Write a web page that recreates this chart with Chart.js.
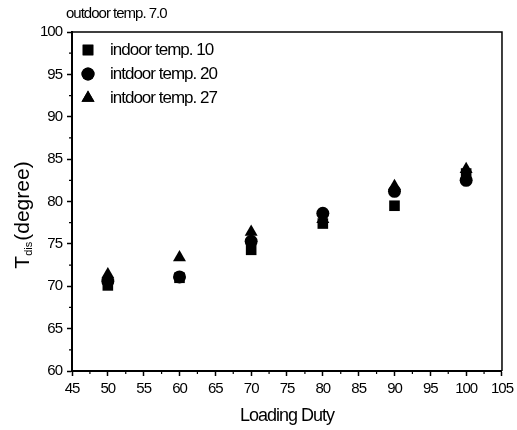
<!DOCTYPE html>
<html>
<head>
<meta charset="utf-8">
<script src="https://cdn.jsdelivr.net/npm/chart.js@4/dist/chart.umd.min.js"></script>
<style>
  html, body { margin: 0; padding: 0; background: #fff; }
  #wrap { width: 517px; height: 430px; position: relative; }
</style>
</head>
<body>
<div id="wrap"><canvas id="chart"></canvas></div>
<script>
// ─── Data ───
const loadingDuty = [50, 60, 70, 80, 90, 100];
const indoor10 = [70.1, 71.0, 74.3, 77.4, 79.5, 83.3];
const indoor20 = [70.6, 71.1, 75.3, 78.6, 81.2, 82.5];
const indoor27 = [71.4, 73.4, 76.4, 77.9, 81.8, 83.8];
const seriesLabels = ['indoor temp. 10', 'intdoor temp. 20', 'intdoor temp. 27'];
const xTicks = [45, 50, 55, 60, 65, 70, 75, 80, 85, 90, 95, 100, 105];
const yTicks = [60, 65, 70, 75, 80, 85, 90, 95, 100];
const chartTitle = 'outdoor temp. 7.0';

const FONT = 'Liberation Sans, Arial, sans-serif';
const toPoints = ys => loadingDuty.map((x, i) => ({ x, y: ys[i] }));

// minor ticks, frame, legend, y title with subscript
const decor = {
    id: 'decor',
    beforeUpdate(chart) { chart.ctx.letterSpacing = '-1px'; },
    beforeDraw(chart) { chart.ctx.letterSpacing = '-1px'; },
    afterDraw(chart) {
        const { ctx, chartArea: a, scales: { x, y } } = chart;
        ctx.save();
        ctx.strokeStyle = '#000';
        // top / right frame
        ctx.lineWidth = 1.5;
        ctx.beginPath();
        ctx.moveTo(a.left, a.top); ctx.lineTo(a.right, a.top); ctx.lineTo(a.right, a.bottom);
        ctx.stroke();
        // minor ticks
        ctx.lineWidth = 1.2;
        ctx.beginPath();
        for (let i = 0; i < xTicks.length - 1; i++) {
            const px = x.getPixelForValue(xTicks[i] + 2.5);
            ctx.moveTo(px, a.bottom); ctx.lineTo(px, a.bottom + 3);
        }
        for (let i = 0; i < yTicks.length - 1; i++) {
            const py = y.getPixelForValue(yTicks[i] + 2.5);
            ctx.moveTo(a.left, py); ctx.lineTo(a.left - 3, py);
        }
        ctx.stroke();

        // title
        ctx.fillStyle = '#000';
        ctx.letterSpacing = '-1px';
        ctx.font = '15px ' + FONT;
        ctx.textAlign = 'left';
        ctx.textBaseline = 'middle';
        ctx.fillText(chartTitle, 66, 14);

        // legend
        ctx.font = '17px ' + FONT;
        const rows = [50, 74, 98];
        chart.data.datasets.forEach((ds, i) => {
            Chart.helpers.drawPoint(ctx, {
                pointStyle: ds.pointStyle, radius: ds.pointRadius, borderWidth: 0, rotation: 0
            }, 88, rows[i]);
            ctx.fill();
            ctx.fillText(ds.label, 110, rows[i]);
        });

        // y axis title: T_dis(degree)
        ctx.letterSpacing = '0px';
        ctx.translate(23, 215);
        ctx.rotate(-Math.PI / 2);
        const big = '21px ' + FONT, small = '11px ' + FONT;
        ctx.font = big; const wT = ctx.measureText('T').width;
        const wP = ctx.measureText('(degree)').width;
        ctx.font = small; const wS = ctx.measureText('dis').width;
        let cx = -(wT + wS + 1 + wP) / 2;
        ctx.font = big; ctx.fillText('T', cx, 0); cx += wT;
        ctx.font = small; ctx.fillText('dis', cx, 6); cx += wS + 1;
        ctx.font = big; ctx.fillText('(degree)', cx, 0);
        ctx.restore();
    }
};

const makeSet = (label, data, style, r, order) => ({
    label, data: toPoints(data),
    pointStyle: style, pointRadius: r, pointHoverRadius: r,
    backgroundColor: '#000', borderColor: '#000', borderWidth: 0,
    showLine: false, order
});

new Chart(document.getElementById('chart'), {
    type: 'scatter',
    data: {
        datasets: [
            makeSet(seriesLabels[0], indoor10, 'rect', 7.5, 2),
            makeSet(seriesLabels[1], indoor20, 'circle', 6.5, 1),
            makeSet(seriesLabels[2], indoor27, 'triangle', 7.5, 0)
        ]
    },
    options: {
        responsive: true, maintainAspectRatio: false, animation: false,
        layout: { padding: { left: 0, top: 32, right: 13, bottom: 0 } },
        plugins: { legend: { display: false }, tooltip: { enabled: false } },
        scales: {
            x: {
                type: 'linear', min: 45, max: 105,
                afterFit: s => { s.height = 59; },
                afterBuildTicks: s => { s.ticks = xTicks.map(v => ({ value: v })); },
                grid: { drawOnChartArea: false, drawTicks: true, tickLength: 5, tickWidth: 1.5, tickColor: '#000' },
                border: { display: true, color: '#000', width: 2 },
                ticks: { color: '#000', font: { family: FONT, size: 15 }, padding: 4, maxRotation: 0, autoSkip: false },
                title: { display: true, text: 'Loading Duty', color: '#000', font: { family: FONT, size: 18 }, padding: { top: 0, bottom: 3 } }
            },
            y: {
                type: 'linear', min: 60, max: 100,
                afterFit: s => { s.width = 72; },
                afterBuildTicks: s => { s.ticks = yTicks.map(v => ({ value: v })); },
                grid: { drawOnChartArea: false, drawTicks: true, tickLength: 5, tickWidth: 1.5, tickColor: '#000' },
                border: { display: true, color: '#000', width: 2 },
                ticks: { color: '#000', font: { family: FONT, size: 15 }, padding: 5, autoSkip: false }
            }
        }
    },
    plugins: [decor]
});
</script>
</body>
</html>
